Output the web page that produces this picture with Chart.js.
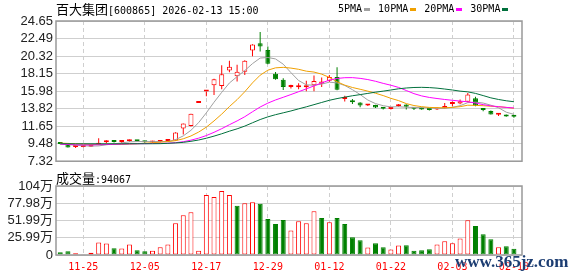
<!DOCTYPE html>
<html>
<head>
<meta charset="utf-8">
<script src="https://cdn.jsdelivr.net/npm/chart.js@4.4.1/dist/chart.umd.min.js"></script>
<style>
  body { margin: 0; background: #fff; }
  #wrap { position: relative; width: 578px; height: 276px; overflow: hidden; background: #fff; }
  canvas { position: absolute; left: 0; }
  .txt { position: absolute; z-index: 2; white-space: nowrap; color: #000; line-height: 14px; }
  .cjk { font-family: 'Noto Sans CJK SC', sans-serif; font-size: 13px; }
  .mono { font-family: 'DejaVu Sans Mono', monospace; font-size: 10px; }
  #legend { display: flex; align-items: center; }
  #legend i { display: inline-block; width: 6px; height: 3px; margin-left: 2px; margin-right: 8px; }
  #wm { font: bold 17px 'Liberation Serif', serif; color: #1c3d72; text-shadow: 0 0 2px #fff; }
</style>
</head>
<body>
<div id="wrap">
  <canvas id="price" width="578" height="172" style="top:0"></canvas>
  <canvas id="vol" width="578" height="104" style="top:172px"></canvas>
  <div class="txt cjk" style="left:56px; top:2px">百大集团<span class="mono">[600865] 2026-02-13 15:00</span></div>
  <div class="txt mono" id="legend" style="left:338px; top:2px"></div>
  <div class="txt cjk" id="volLabel" style="left:56px; top:171px"></div>
  <div class="txt" id="wm" style="left:455px; top:252px">www.365jz.com</div>
</div>
<script>
const dates = ['11-20', '11-21', '11-24', '11-25', '11-26', '11-27', '11-28', '12-01', '12-02', '12-03',
  '12-04', '12-05', '12-08', '12-09', '12-10', '12-11', '12-12', '12-15', '12-16', '12-17',
  '12-18', '12-19', '12-22', '12-23', '12-24', '12-25', '12-26', '12-29', '12-30', '12-31',
  '01-05', '01-06', '01-07', '01-08', '01-09', '01-12', '01-13', '01-14', '01-15', '01-16',
  '01-19', '01-20', '01-21', '01-22', '01-23', '01-26', '01-27', '01-28', '01-29', '01-30',
  '02-02', '02-03', '02-04', '02-05', '02-06', '02-09', '02-10', '02-11', '02-12', '02-13'];
const tickIdx = [3, 11, 19, 27, 35, 43, 51, 59];
const priceTicks = [7.32, 9.48, 11.65, 13.82, 15.98, 18.15, 20.32, 22.49, 24.65];
const volTicks = [0, 259925, 519850, 779775, 1039700];
const volTickLabels = ['0', '25.99万', '51.99万', '77.98万', '104万'];

const open = [9.52, 9.49, 9.06, 9.08, 9.12, 9.35, 9.66, 9.72, 9.68, 9.80,
  9.82, 9.75, 9.64, 9.70, 9.82, 9.88, 11.35, 11.67, 14.50, 15.95,
  16.70, 16.62, 18.54, 17.82, 18.38, 21.01, 21.90, 21.05, 18.12, 17.40,
  16.50, 16.46, 16.46, 16.70, 16.88, 17.26, 17.74, 15.00, 14.75, 14.58,
  14.20, 14.26, 13.96, 13.76, 14.10, 14.34, 13.92, 13.92, 13.76, 13.70,
  13.88, 14.38, 14.44, 14.66, 15.10, 13.76, 13.54, 13.06, 13.04, 12.88];
const high = [9.55, 9.50, 9.14, 9.16, 9.24, 10.15, 9.91, 9.80, 9.91, 10.00,
  9.88, 9.80, 9.85, 9.88, 10.02, 10.90, 11.98, 13.18, 14.50, 15.95,
  17.50, 19.17, 19.73, 19.25, 19.80, 21.77, 23.30, 21.49, 18.34, 17.58,
  16.78, 16.95, 17.26, 17.90, 17.66, 17.98, 18.93, 15.40, 15.00, 14.62,
  14.40, 14.30, 14.00, 13.92, 14.40, 14.36, 14.02, 13.96, 13.82, 13.96,
  14.50, 14.70, 14.95, 15.75, 15.30, 13.90, 13.58, 13.20, 13.08, 13.02];
const low = [9.42, 9.00, 8.95, 9.04, 9.08, 9.30, 9.51, 9.62, 9.51, 9.72,
  9.74, 9.60, 9.60, 9.62, 9.78, 9.85, 10.63, 11.60, 14.50, 15.34,
  15.50, 16.22, 18.30, 17.18, 17.98, 20.30, 20.87, 19.30, 17.40, 16.12,
  16.30, 16.20, 15.98, 15.98, 16.50, 17.10, 16.10, 14.70, 14.40, 14.00,
  14.15, 13.90, 13.72, 13.70, 14.05, 13.72, 13.66, 13.68, 13.60, 13.66,
  13.84, 14.10, 14.36, 14.60, 14.10, 13.50, 13.08, 12.92, 12.80, 12.70];
const close = [9.45, 9.02, 9.12, 9.14, 9.20, 9.59, 9.71, 9.68, 9.72, 9.85,
  9.78, 9.65, 9.70, 9.78, 9.90, 10.87, 11.98, 13.18, 14.50, 15.95,
  17.45, 18.06, 19.00, 18.38, 19.73, 21.75, 21.50, 19.36, 17.45, 16.48,
  16.56, 16.60, 16.70, 17.22, 17.18, 17.74, 16.14, 15.10, 14.62, 14.20,
  14.34, 13.96, 13.80, 13.84, 14.32, 14.04, 13.80, 13.72, 13.66, 13.92,
  14.15, 14.45, 14.72, 15.58, 14.18, 13.64, 13.10, 13.16, 12.84, 12.80];
const volume = [40600, 55800, 25400, 10000, 35500, 187700, 172400, 101400, 96400, 157200,
  71000, 55800, 65900, 116700, 157200, 476800, 598500, 644100, 65900, 902800,
  872400, 963700, 902800, 740500, 781100, 796300, 770900, 542700, 466600, 527500,
  370300, 507200, 476800, 659400, 557900, 492000, 557900, 466600, 268800, 223200,
  111600, 177500, 116700, 81200, 142000, 147100, 65900, 71000, 86200, 157200,
  208000, 177500, 248500, 522400, 436200, 314500, 238400, 116700, 131900, 94067];

const ma5 = [9.50, 9.40, 9.30, 9.22, 9.19, 9.21, 9.35, 9.46, 9.58, 9.71,
  9.75, 9.74, 9.74, 9.75, 9.76, 9.98, 10.45, 11.14, 12.09, 13.30,
  14.61, 15.83, 16.99, 17.77, 18.52, 19.38, 20.07, 20.14, 19.96, 19.31,
  18.27, 17.29, 16.76, 16.71, 16.85, 17.09, 17.00, 16.68, 16.16, 15.56,
  14.88, 14.44, 14.18, 14.03, 14.05, 13.99, 13.96, 13.94, 13.91, 13.83,
  13.85, 13.98, 14.18, 14.56, 14.62, 14.51, 14.24, 13.93, 13.38, 13.11];
const ma10 = [9.55, 9.52, 9.48, 9.44, 9.40, 9.39, 9.39, 9.40, 9.42, 9.45,
  9.48, 9.54, 9.60, 9.67, 9.74, 9.86, 10.09, 10.44, 10.92, 11.53,
  12.30, 13.14, 14.07, 14.93, 15.91, 17.00, 17.95, 18.57, 18.86, 18.92,
  18.83, 18.68, 18.45, 18.34, 18.08, 17.68, 17.14, 16.72, 16.43, 16.21,
  15.98, 15.72, 15.43, 15.09, 14.81, 14.44, 14.20, 14.06, 13.97, 13.94,
  13.92, 13.97, 14.06, 14.24, 14.22, 14.18, 14.11, 14.06, 13.97, 13.86];
const ma20 = [9.42, 9.38, 9.35, 9.33, 9.33, 9.36, 9.38, 9.40, 9.43, 9.46,
  9.48, 9.49, 9.51, 9.52, 9.54, 9.61, 9.73, 9.92, 10.17, 10.49,
  10.89, 11.34, 11.83, 12.30, 12.82, 13.43, 14.02, 14.50, 14.89, 15.22,
  15.56, 15.91, 16.26, 16.63, 17.00, 17.34, 17.55, 17.64, 17.65, 17.56,
  17.41, 17.20, 16.94, 16.71, 16.44, 16.06, 15.67, 15.39, 15.20, 15.07,
  14.95, 14.85, 14.75, 14.66, 14.51, 14.31, 14.16, 14.06, 13.97, 13.90];
const ma30 = [9.48, 9.48, 9.47, 9.47, 9.47, 9.47, 9.47, 9.47, 9.47, 9.48,
  9.48, 9.48, 9.48, 9.49, 9.53, 9.58, 9.65, 9.78, 9.94, 10.16,
  10.42, 10.71, 11.03, 11.32, 11.66, 12.07, 12.47, 12.80, 13.07, 13.30,
  13.53, 13.79, 14.04, 14.31, 14.58, 14.85, 15.06, 15.24, 15.41, 15.55,
  15.70, 15.85, 15.98, 16.12, 16.27, 16.37, 16.43, 16.45, 16.42, 16.35,
  16.24, 16.12, 15.98, 15.89, 15.70, 15.43, 15.15, 14.95, 14.79, 14.67];
const maNames = ['5PMA', '10PMA', '20PMA', '30PMA'];

const maSeries = [ma5, ma10, ma20, ma30];
const maColors = ['#a0a0a0', '#f0a000', '#ff00ff', '#00703c'];
const RED = '#ff0000', GREEN = '#008000';
const SANS = "'Liberation Sans', 'Noto Sans CJK SC', sans-serif";
const MONO = "'DejaVu Sans Mono', monospace";

const idx = dates.map((d, i) => i);
const isUp = idx.map(i => close[i] >= open[i]);
const volUp = idx.map(i => i === 0 ? isUp[0] : close[i] >= close[i - 1]);

// frame around the plot area
const frame = {
  id: 'frame',
  afterDraw(c) {
    const a = c.chartArea, g = c.ctx;
    g.save();
    g.strokeStyle = '#999';
    g.lineWidth = 1.5;
    g.strokeRect(a.left, a.top, a.right - a.left, a.bottom - a.top);
    g.restore();
  }
};

function xAxis(showLabels, h) {
  return {
    type: 'linear', min: -0.55, max: 60.05, bounds: 'data', offset: false,
    afterBuildTicks: s => { s.ticks = tickIdx.map(v => ({ value: v })); },
    afterFit: s => { s.height = h; },
    grid: { color: '#cfcfcf', lineWidth: 1, drawTicks: false, offset: false },
    border: { display: false, dash: [4, 3] },
    ticks: {
      display: showLabels, autoSkip: false, maxRotation: 0, padding: 6, color: RED,
      font: { family: MONO, size: 10 }, callback: v => dates[v]
    }
  };
}

function yAxis(min, max, ticks, label) {
  return {
    type: 'linear', min: min, max: max, bounds: 'data',
    afterBuildTicks: s => { s.ticks = ticks.map(v => ({ value: v })); },
    afterFit: s => { s.width = 56; },
    grid: { color: '#cfcfcf', lineWidth: 1, drawTicks: false },
    border: { display: false },
    ticks: {
      padding: 3, color: '#222', autoSkip: false,
      font: { family: SANS, size: 13 }, callback: label
    }
  };
}

const common = {
  responsive: false, animation: false, events: [],
  plugins: { legend: { display: false }, tooltip: { enabled: false } }
};

new Chart(document.getElementById('price'), {
  type: 'bar',
  data: {
    datasets: [
      {
        data: idx.map(i => ({ x: i, y: [low[i], high[i]] })),
        backgroundColor: idx.map(i => isUp[i] ? RED : GREEN),
        grouped: false, maxBarThickness: 1, order: 3
      },
      {
        data: idx.map(i => ({ x: i, y: [open[i], close[i]] })),
        backgroundColor: idx.map(i => isUp[i] ? '#fff' : GREEN),
        borderColor: idx.map(i => isUp[i] ? RED : GREEN),
        borderWidth: 1, borderSkipped: false, minBarLength: 2,
        grouped: false, maxBarThickness: 5, order: 2
      },
      ...maSeries.map((s, k) => ({
        type: 'line', label: maNames[k],
        data: idx.map(i => ({ x: i, y: s[i] })),
        borderColor: maColors[k], borderWidth: 1, pointRadius: 0, tension: 0,
        order: 1 - k * 0.1
      }))
    ]
  },
  options: {
    ...common,
    layout: { padding: { left: 0, right: 56, top: 21, bottom: 6 } },
    scales: {
      x: xAxis(false, 0),
      y: yAxis(7.32, 24.65, priceTicks, v => v.toFixed(2))
    }
  },
  plugins: [frame]
});

new Chart(document.getElementById('vol'), {
  type: 'bar',
  data: {
    datasets: [{
      data: idx.map(i => ({ x: i, y: volume[i] })),
      backgroundColor: idx.map(i => volUp[i] ? '#fff' : GREEN),
      borderColor: idx.map(i => volUp[i] ? RED : GREEN),
      borderWidth: 1, borderSkipped: false,
      grouped: false, maxBarThickness: 5
    }]
  },
  options: {
    ...common,
    layout: { padding: { left: 0, right: 56, top: 14, bottom: 0 } },
    scales: {
      x: xAxis(true, 21),
      y: yAxis(0, 1039700, volTicks, (v, i) => volTickLabels[i])
    }
  },
  plugins: [frame]
});

// legend: name then colour swatch
const legend = document.getElementById('legend');
maNames.forEach((n, k) => {
  const t = document.createElement('span');
  t.textContent = n;
  const sw = document.createElement('i');
  sw.style.background = maColors[k];
  legend.appendChild(t);
  legend.appendChild(sw);
});

const vl = document.getElementById('volLabel');
vl.innerHTML = '成交量<span class="mono">:' + volume[volume.length - 1] + '</span>';
</script>
</body>
</html>
